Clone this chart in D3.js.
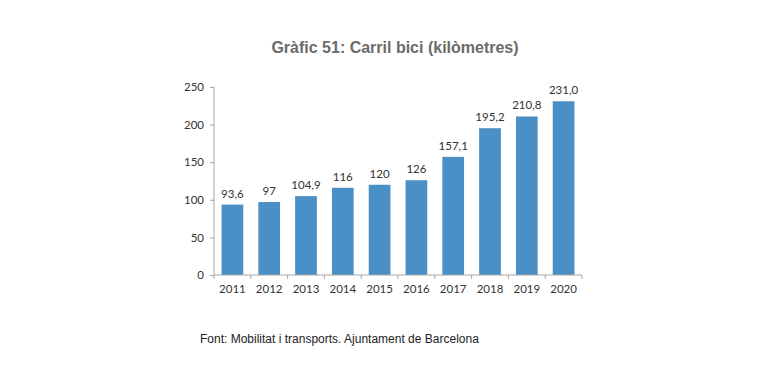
<!DOCTYPE html>
<style>
    body { margin: 0; background: #fff; }
    .axis path, .axis line { stroke: #a6a6a6; }
    .axis text { font-family: Lato, "Open Sans", sans-serif; font-size: 11.5px; fill: #333; }
</style>
<svg width="768" height="384"></svg>
<script src="https://d3js.org/d3.v7.min.js"></script>
<script>

    var years = ["2011", "2012", "2013", "2014", "2015", "2016", "2017", "2018", "2019", "2020"];
    var km = [93.6, 97, 104.9, 116, 120, 126, 157.1, 195.2, 210.8, 231.0];
    var labels = ["93,6", "97", "104,9", "116", "120", "126", "157,1", "195,2", "210,8", "231,0"];
    var yTicks = [0, 50, 100, 150, 200, 250];

    var svg = d3.select("svg"),
        margin = {top: 87, right: 186, bottom: 109, left: 214},
        width = 768 - margin.left - margin.right,
        height = 384 - margin.top - margin.bottom;

    var g = svg.append("g")
        .attr("transform", "translate(" + margin.left + "," + margin.top + ")");

    var x = d3.scaleBand()
        .domain(years)
        .range([0, width])
        .paddingInner(0.41)
        .paddingOuter(0.205);

    var y = d3.scaleLinear()
        .domain([0, 250])
        .range([height, 0]);

    // title
    svg.append("text")
        .attr("x", 395)
        .attr("y", 53)
        .attr("text-anchor", "middle")
        .attr("font-family", "Liberation Sans, Arial, sans-serif")
        .attr("font-weight", "bold")
        .attr("font-size", 16)
        .attr("fill", "#6b6b6b")
        .text("Gràfic 51: Carril bici (kilòmetres)");

    g.selectAll("rect")
        .data(km)
        .enter().append("rect")
        .attr("x", function(d, i) { return x(years[i]); })
        .attr("y", function(d) { return y(d); })
        .attr("width", x.bandwidth())
        .attr("height", function(d) { return height - y(d); })
        .attr("fill", "#4a8fc5");

    g.selectAll(".val")
        .data(km)
        .enter().append("text")
        .attr("class", "val")
        .attr("x", function(d, i) { return x(years[i]) + x.bandwidth() / 2; })
        .attr("y", function(d) { return y(d) - 7; })
        .attr("text-anchor", "middle")
        .attr("font-family", "Lato, 'Open Sans', sans-serif")
        .attr("font-size", 11.5)
        .attr("fill", "#333")
        .text(function(d, i) { return labels[i]; });

    // y axis
    g.append("g")
        .attr("class", "axis")
        .call(d3.axisLeft(y).tickValues(yTicks).tickSize(4).tickPadding(6))
        .call(function(a) { a.select(".domain").attr("d", "M0,0V" + height); });

    // x axis, ticks on category boundaries
    var xa = g.append("g")
        .attr("class", "axis")
        .attr("transform", "translate(0," + height + ")")
        .call(d3.axisBottom(x).tickSize(0).tickPadding(10))
        .call(function(a) { a.select(".domain").attr("d", "M0,0H" + width); });

    xa.selectAll(".sep")
        .data(d3.range(years.length + 1))
        .enter().append("line")
        .attr("class", "sep")
        .attr("x1", function(i) { return i * width / years.length; })
        .attr("x2", function(i) { return i * width / years.length; })
        .attr("y1", 0)
        .attr("y2", 4);

    // source
    svg.append("text")
        .attr("x", 200)
        .attr("y", 343)
        .attr("font-family", "Liberation Sans, Arial, sans-serif")
        .attr("font-size", 12)
        .attr("fill", "#222")
        .text("Font: Mobilitat i transports. Ajuntament de Barcelona");

</script>
